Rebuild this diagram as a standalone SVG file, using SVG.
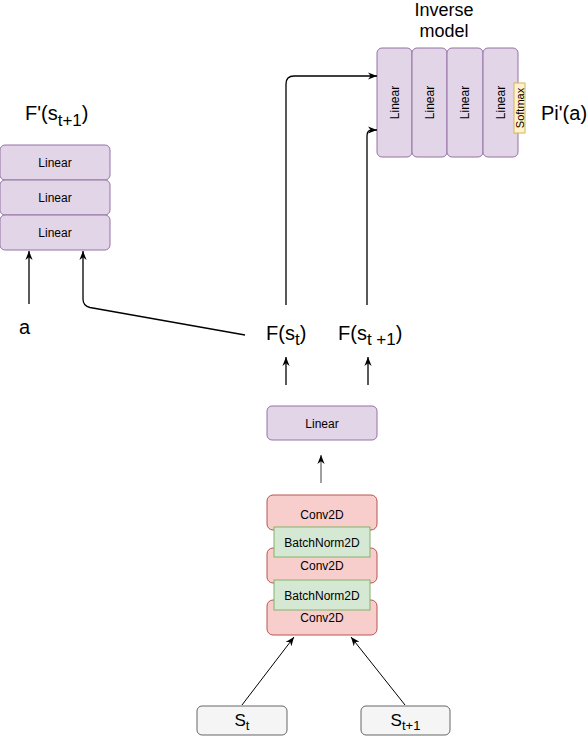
<svg xmlns="http://www.w3.org/2000/svg" width="588" height="736" viewBox="0 0 588 736">
<style>
.bg{fill:#ffffff}
.lin{fill:#e1d5e7;stroke:#9673a6;stroke-width:1}
.conv{fill:#f8cecc;stroke:#b85450;stroke-width:1}
.bn{fill:#d5e8d4;stroke:#82b366;stroke-width:1}
.inp{fill:#f5f5f5;stroke:#666666;stroke-width:1}
.sm{fill:#fff2cc;stroke:#d6b656;stroke-width:1}
.t{font-family:"Liberation Sans",Arial,sans-serif;fill:#000000}
.s11{font-size:11px}
.s12{font-size:12px}
.big{font-size:20px}
.mid{font-size:18px}
.sin{font-size:17px}
.c{text-anchor:middle}
.ln{fill:none;stroke:#000000;stroke-width:1.3}
.thin{fill:none;stroke:#000000;stroke-width:1}
.gray{fill:none;stroke:#808080;stroke-width:1.5}
</style>
<defs>
<marker id="arr" viewBox="0 0 10 10" refX="10" refY="5" markerWidth="9" markerHeight="9" markerUnits="userSpaceOnUse" orient="auto">
<path d="M0,1 L10,5 L0,9 L3,5 z" fill="#000000"/>
</marker>
</defs>
<rect class="bg" x="0" y="0" width="588" height="736"/>

<g id="inverse-model">
<text class="t mid c" x="444" y="16">Inverse</text>
<text class="t mid c" x="444" y="36.5">model</text>
<g id="inv-linear-1"><rect class="lin" x="377" y="48" width="35" height="109" rx="5"/><text class="t s12 c" transform="translate(398.5,102.5) rotate(-90)">Linear</text></g>
<g id="inv-linear-2"><rect class="lin" x="412" y="48" width="35" height="109" rx="5"/><text class="t s12 c" transform="translate(433.5,102.5) rotate(-90)">Linear</text></g>
<g id="inv-linear-3"><rect class="lin" x="447" y="48" width="36" height="109" rx="5"/><text class="t s12 c" transform="translate(469,102.5) rotate(-90)">Linear</text></g>
<g id="inv-linear-4"><rect class="lin" x="483" y="48" width="35" height="109" rx="5"/><text class="t s12 c" transform="translate(504.5,102.5) rotate(-90)">Linear</text></g>
<g id="softmax"><rect class="sm" x="514" y="83" width="11" height="50"/><text class="t s11 c" transform="translate(523.5,108) rotate(-90)">Softmax</text></g>
</g>
<g id="pi-label"><text class="t big" x="541" y="120">Pi'(a)</text></g>

<g id="forward-model">
<text class="t big" x="25" y="120">F'(s<tspan font-size="17" dy="6">t+1</tspan><tspan dy="-6">)</tspan></text>
<g id="fwd-linear-1"><rect class="lin" x="0" y="145" width="110" height="35" rx="5"/><text class="t s12 c" x="55" y="166.5">Linear</text></g>
<g id="fwd-linear-2"><rect class="lin" x="0" y="180" width="110" height="35" rx="5"/><text class="t s12 c" x="55" y="201.5">Linear</text></g>
<g id="fwd-linear-3"><rect class="lin" x="0" y="215" width="110" height="35" rx="5"/><text class="t s12 c" x="55" y="236.5">Linear</text></g>
</g>

<g id="a-label"><text class="t big" x="19" y="334">a</text></g>
<g id="fst-label"><text class="t big" x="266" y="340">F(s<tspan font-size="17" dy="5">t</tspan><tspan dy="-5">)</tspan></text></g>
<g id="fst1-label"><text class="t big" x="338" y="340">F(s<tspan font-size="17" dy="5">t +1</tspan><tspan dy="-5">)</tspan></text></g>

<g id="encoder-linear"><rect class="lin" x="267" y="406" width="110" height="34" rx="5"/><text class="t s12 c" x="322" y="427.5">Linear</text></g>

<g id="encoder-conv">
<g id="conv1"><rect class="conv" x="267" y="495" width="110" height="35" rx="6"/><text class="t s12 c" x="322" y="518.5">Conv2D</text></g>
<g id="conv2"><rect class="conv" x="267" y="548" width="110" height="35" rx="6"/><text class="t s12 c" x="322" y="570">Conv2D</text></g>
<g id="conv3"><rect class="conv" x="267" y="600" width="110" height="35" rx="6"/><text class="t s12 c" x="322" y="622">Conv2D</text></g>
<g id="bn1"><rect class="bn" x="274" y="527" width="96" height="30"/><text class="t s12 c" x="322" y="546.5">BatchNorm2D</text></g>
<g id="bn2"><rect class="bn" x="274" y="580" width="96" height="30"/><text class="t s12 c" x="322" y="599.5">BatchNorm2D</text></g>
</g>

<g id="input-st"><rect class="inp" x="197" y="706" width="90" height="29" rx="5"/><text class="t sin c" x="242" y="726">S<tspan font-size="13" dy="4">t</tspan></text></g>
<g id="input-st1"><rect class="inp" x="361" y="706" width="89" height="29" rx="5"/><text class="t sin c" x="405.5" y="726">S<tspan font-size="13" dy="4">t+1</tspan></text></g>

<g id="connectors">
<path class="ln" d="M29,304 L29,251" marker-end="url(#arr)"/>
<path class="ln" d="M245,335 L90,307.5 Q83,306 83,299 L83,251" marker-end="url(#arr)"/>
<path class="ln" d="M286,305 L286,84 Q286,76 294,76 L377,76" marker-end="url(#arr)"/>
<path class="ln" d="M367,305 L367,136 Q367,130 372,130 L377,130" marker-end="url(#arr)"/>
<path class="ln" d="M286,385 L286,357" marker-end="url(#arr)"/>
<path class="ln" d="M368,385 L368,357" marker-end="url(#arr)"/>
<path class="gray" d="M321,483 L321,455" marker-end="url(#arr)"/>
<path class="thin" d="M242,705 L294,637" marker-end="url(#arr)"/>
<path class="thin" d="M405,705 L351,637" marker-end="url(#arr)"/>
</g>
</svg>
